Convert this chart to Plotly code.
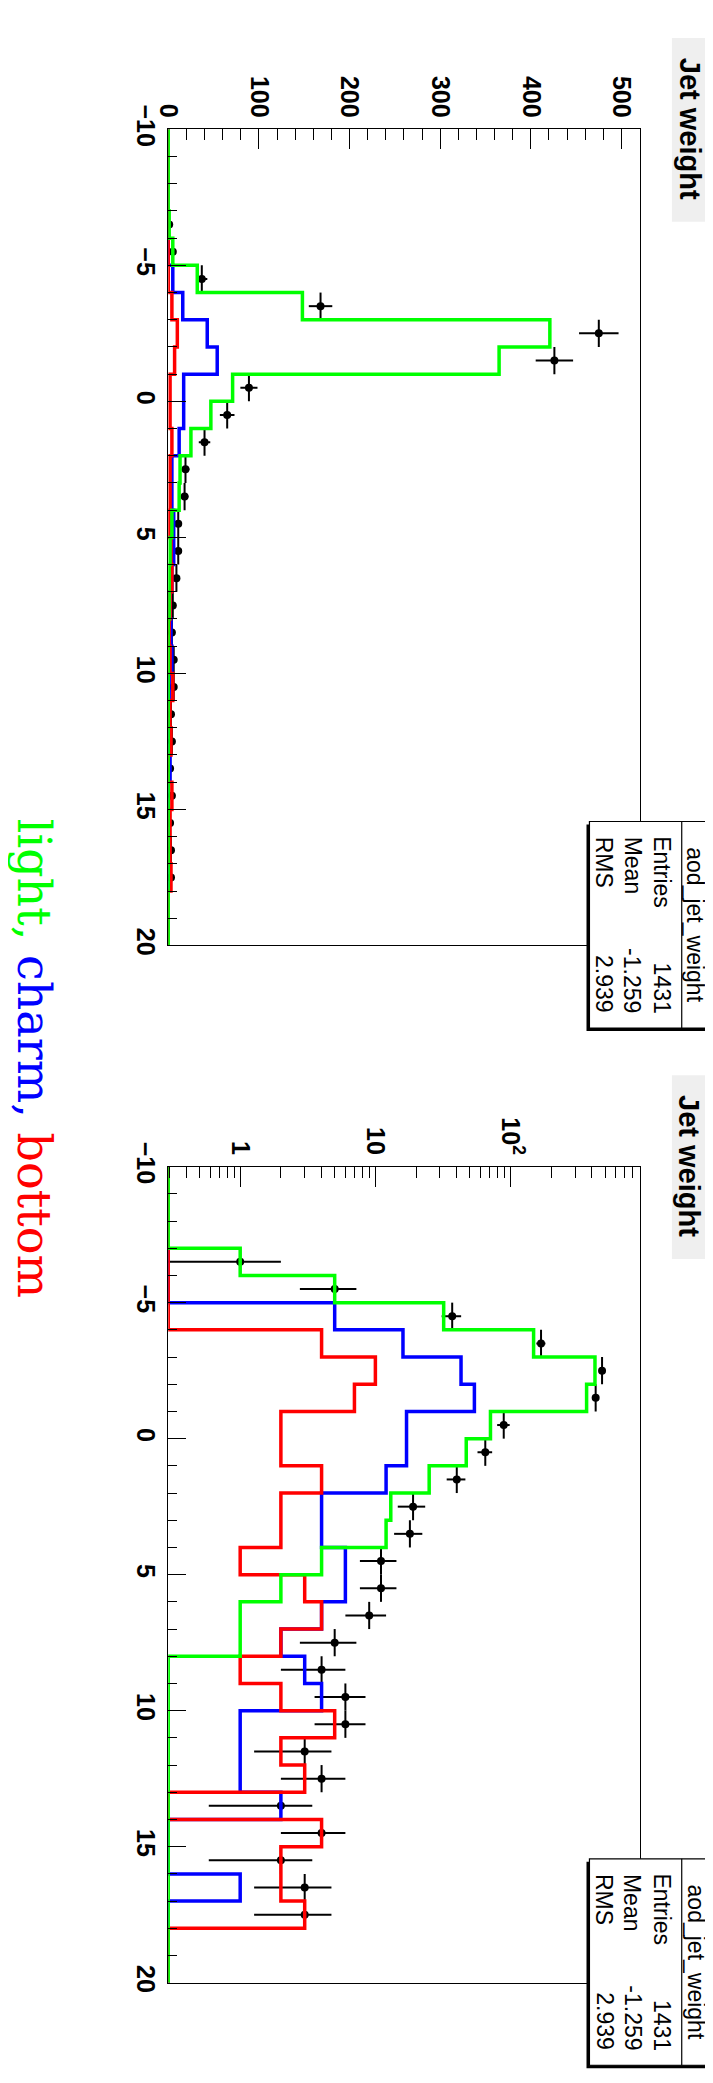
import numpy as np
import plotly.graph_objects as go

W, H = 713, 2083

# ---------------- data ----------------
bin_edges = list(range(-10, 21))          # 30 bins of width 1
light  = [0, 0, 0, 1, 5, 32, 148, 421, 365, 71, 47, 25, 13, 12, 4, 2, 1, 1,
          0, 0, 0, 0, 0, 0, 0, 0, 0, 0, 0, 0]
charm  = [0, 0, 0, 0, 0, 5, 16, 43, 54, 17, 17, 12, 4, 4, 6, 6, 4, 2,
          3, 4, 1, 1, 1, 2, 0, 0, 1, 0, 0, 0]
bottom = [0, 0, 0, 0, 0, 0, 4, 10, 7, 2, 2, 4, 2, 2, 1, 3, 4, 2,
          1, 2, 5, 2, 3, 0, 4, 2, 2, 3, 0, 0]
data_counts = [0, 0, 0, 1, 5, 37, 168, 475, 426, 89, 65, 40, 19, 18, 11, 11, 9, 5,
               4, 6, 6, 3, 4, 2, 4, 2, 3, 3, 0, 0]

lin_ticks = [0, 100, 200, 300, 400, 500]
log_ticks = [1, 10, 100]
log_ticktext = ["1", "10", "10<sup>2</sup>"]
x_ticks = [-10, -5, 0, 5, 10, 15, 20]

title_text = "Jet weight"
stats_name = "aod_jet_weight"
stats_rows = [("Entries", "1431"), ("Mean", "-1.259"), ("RMS", "2.939")]

# ---------------- geometry helpers ----------------
def px(x):
    return x / W

def py(y):
    return 1 - y / H

LIN_MAX = 521
LOG_RANGE = [-0.532, 2.961]
LOG_FLOOR = 10 ** LOG_RANGE[0]

FL, FR = 150, 631
P1T, P1B = 98, 928
P2T, P2B = 1153, 1983

GREEN, BLUE, RED = "#00ff00", "#0000ff", "#ff0000"

centers = [(bin_edges[i] + bin_edges[i + 1]) / 2 for i in range(len(bin_edges) - 1)]


def step_xy(counts, floor):
    xs, ys = [], []
    for i, c in enumerate(counts):
        v = c if c > 0 else floor
        xs += [v, v]
        ys += [bin_edges[i], bin_edges[i + 1]]
    return xs, ys


fig = go.Figure()

for k, (xa, ya, islog) in enumerate([("x", "y", False), ("x2", "y2", True)]):
    floor = LOG_FLOOR if islog else 0
    # data points
    dx, dy, em, ep = [], [], [], []
    for c, n in zip(centers, data_counts):
        if n <= 0:
            continue
        e = float(np.sqrt(n))
        lo = n - e
        lo = max(lo, floor)
        dx.append(n)
        dy.append(c)
        em.append(n - lo)
        ep.append(e)
    fig.add_trace(go.Scatter(
        x=dx, y=dy, mode="markers", xaxis=xa, yaxis=ya,
        marker=dict(color="black", size=8, symbol="circle"),
        error_x=dict(type="data", symmetric=False, array=ep, arrayminus=em,
                     color="black", thickness=2, width=0),
        error_y=dict(type="constant", value=0.5, color="black", thickness=2, width=0),
        cliponaxis=True, showlegend=False, hoverinfo="skip"))
    for counts, col in [(charm, BLUE), (bottom, RED), (light, GREEN)]:
        sx, sy = step_xy(counts, floor)
        fig.add_trace(go.Scatter(
            x=sx, y=sy, mode="lines", xaxis=xa, yaxis=ya,
            line=dict(color=col, width=3.5), showlegend=False, hoverinfo="skip"))

tickfont = dict(family="Liberation Sans, Arial", size=25, color="black", weight="bold")

common_x = dict(domain=[px(FL), px(FR)], side="top", ticks="inside", ticklen=20,
                tickwidth=1, tickcolor="black", tickangle=90, showline=True,
                mirror=True, linecolor="black", linewidth=1, showgrid=False,
                zeroline=False, tickfont=tickfont, ticklabelstandoff=2)
common_y = dict(range=[20, -10], ticks="inside", ticklen=18, tickwidth=1,
                tickcolor="black", tickangle=90, tickmode="array", tickvals=x_ticks,
                showline=True, mirror=True, linecolor="black", linewidth=1,
                showgrid=False, zeroline=False, tickfont=tickfont,
                minor=dict(ticks="inside", ticklen=9, dtick=1, tick0=0,
                           tickcolor="black", showgrid=False))

minor_log = []
for dec in [0.1, 1, 10, 100]:
    for m in range(2, 10):
        v = m * dec
        if LOG_FLOOR < v < 10 ** LOG_RANGE[1]:
            minor_log.append(v)

fig.update_layout(
    width=W, height=H, margin=dict(l=0, r=0, t=0, b=0),
    paper_bgcolor="white", plot_bgcolor="white", showlegend=False,
    xaxis=dict(common_x, anchor="y", range=[0, LIN_MAX], tickmode="array",
               tickvals=lin_ticks,
               minor=dict(ticks="inside", ticklen=11, dtick=20, tick0=0,
                          tickcolor="black", showgrid=False)),
    yaxis=dict(common_y, anchor="x", domain=[py(P1B), py(P1T)]),
    xaxis2=dict(common_x, anchor="y2", type="log", range=LOG_RANGE,
                tickmode="array", tickvals=log_ticks, ticktext=log_ticktext,
                minor=dict(ticks="inside", ticklen=11, tickmode="array",
                           tickvals=minor_log, tickcolor="black", showgrid=False)),
    yaxis2=dict(common_y, anchor="x2", domain=[py(P2B), py(P2T)]),
)

shapes = []
annotations = []
for off in [0, 1055]:
    # title box
    shapes.append(dict(type="rect", xref="paper", yref="paper",
                       x0=px(663), x1=px(703), y0=py(192 + off), y1=py(5 + off),
                       fillcolor="#efefef", line=dict(width=0), layer="above"))
    annotations.append(dict(xref="paper", yref="paper", x=px(681), y=py(97 + off),
                            text=title_text, showarrow=False, textangle=90,
                            xanchor="center", yanchor="middle",
                            font=dict(family="Liberation Sans, Arial", size=29,
                                      color="black", weight="bold")))
    # stats box
    bx0, bx1, by0, by1 = 579, 702, 802 + off, 1012 + off
    shapes.append(dict(type="rect", xref="paper", yref="paper",
                       x0=px(bx0 - 3), x1=px(bx1 - 3), y0=py(by1 + 3), y1=py(by0 + 3),
                       fillcolor="black", line=dict(width=0), layer="above"))
    shapes.append(dict(type="rect", xref="paper", yref="paper",
                       x0=px(bx0), x1=px(bx1), y0=py(by1), y1=py(by0),
                       fillcolor="white", line=dict(color="black", width=1.2),
                       layer="above"))
    shapes.append(dict(type="line", xref="paper", yref="paper",
                       x0=px(673), x1=px(673), y0=py(by1), y1=py(by0),
                       line=dict(color="black", width=1.2), layer="above"))
    sfont = dict(family="Liberation Sans, Arial", size=23, color="black")
    annotations.append(dict(xref="paper", yref="paper", x=px(687), y=py((by0 + by1) / 2),
                            text=stats_name, showarrow=False, textangle=90,
                            xanchor="center", yanchor="middle", font=sfont))
    for (lab, val), xc in zip(stats_rows, [653, 623, 594]):
        annotations.append(dict(xref="paper", yref="paper", x=px(xc), y=py(by0 + 13),
                                text=lab, showarrow=False, textangle=90,
                                xanchor="center", yanchor="top", font=sfont))
        annotations.append(dict(xref="paper", yref="paper", x=px(xc), y=py(by1 - 13),
                                text=val, showarrow=False, textangle=90,
                                xanchor="center", yanchor="bottom", font=sfont))

annotations.append(dict(
    xref="paper", yref="paper", x=px(13), y=py(1043),
    text=(f"<span style='color:{GREEN}'>light, </span>"
          f"<span style='color:{BLUE}'>charm, </span>"
          f"<span style='color:{RED}'>bottom</span>"),
    showarrow=False, textangle=90, xanchor="center", yanchor="middle",
    font=dict(family="DejaVu Serif", size=46, color="black", weight="normal")))

fig.update_layout(shapes=shapes, annotations=annotations)
fig.write_html("out.html")
